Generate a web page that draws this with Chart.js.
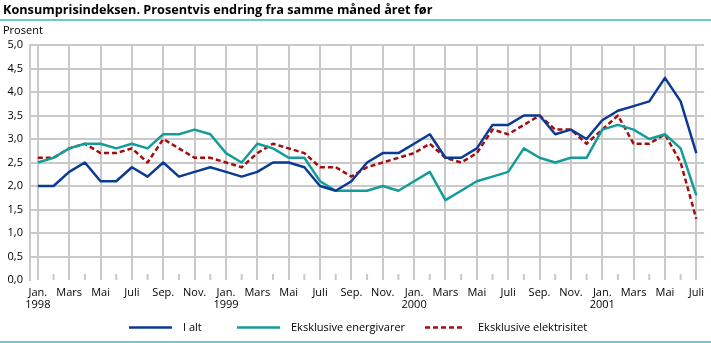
<!DOCTYPE html>
<html>
<head>
<meta charset="utf-8">
<script src="https://cdn.jsdelivr.net/npm/chart.js@4.4.1/dist/chart.umd.min.js"></script>
<style>
  html, body { margin: 0; padding: 0; background: #fff; }
  #wrap { position: relative; width: 711px; height: 343px; overflow: hidden; font-family: "Open Sans", sans-serif; color: #000; }
  #title { position: absolute; left: 3px; top: 0px; font-weight: bold; font-size: 12.7px; white-space: nowrap; }
  .rule { position: absolute; left: 0; width: 711px; height: 2px; background: #6ccbc8; }
  #unit { position: absolute; left: 3px; top: 22px; font-size: 11px; }
  canvas { position: absolute; left: 0; top: 0; }
  .lg { position: absolute; top: 320px; font-size: 11px; white-space: nowrap; line-height: 14px; }
</style>
</head>
<body>
<div id="wrap">
  <canvas id="c" width="711" height="343"></canvas>
  <div id="title">Konsumprisindeksen. Prosentvis endring fra samme måned året før</div>
  <div class="rule" style="top:19px"></div>
  <div id="unit">Prosent</div>
  <div id="legend"></div>
  <div class="rule" style="top:341px"></div>
</div>
<script>
// Years and month names on the time axis
const years = ['1998', '1999', '2000', '2001'];
const monthNames = ['Jan.', 'Feb.', 'Mars', 'April', 'Mai', 'Juni', 'Juli', 'Aug.', 'Sep.', 'Okt.', 'Nov.', 'Des.'];

// Categories: Jan. 1998 to Juli 2001
const categories = [];
years.forEach(y => monthNames.forEach((m, k) => categories.push({ month: m, year: y, k })));
categories.length = 43;

// Percentage change from same month the previous year
const iAlt = [
  2.0, 2.0, 2.3, 2.5, 2.1, 2.1, 2.4, 2.2, 2.5, 2.2, 2.3, 2.4,
  2.3, 2.2, 2.3, 2.5, 2.5, 2.4, 2.0, 1.9, 2.1, 2.5, 2.7, 2.7,
  2.9, 3.1, 2.6, 2.6, 2.8, 3.3, 3.3, 3.5, 3.5, 3.1, 3.2, 3.0,
  3.4, 3.6, 3.7, 3.8, 4.3, 3.8, 2.7
];
const eksklEnergivarer = [
  2.5, 2.6, 2.8, 2.9, 2.9, 2.8, 2.9, 2.8, 3.1, 3.1, 3.2, 3.1,
  2.7, 2.5, 2.9, 2.8, 2.6, 2.6, 2.1, 1.9, 1.9, 1.9, 2.0, 1.9,
  2.1, 2.3, 1.7, 1.9, 2.1, 2.2, 2.3, 2.8, 2.6, 2.5, 2.6, 2.6,
  3.2, 3.3, 3.2, 3.0, 3.1, 2.8, 1.8
];
const eksklElektrisitet = [
  2.6, 2.6, 2.8, 2.9, 2.7, 2.7, 2.8, 2.5, 3.0, 2.8, 2.6, 2.6,
  2.5, 2.4, 2.7, 2.9, 2.8, 2.7, 2.4, 2.4, 2.2, 2.4, 2.5, 2.6,
  2.7, 2.9, 2.6, 2.5, 2.7, 3.2, 3.1, 3.3, 3.5, 3.2, 3.2, 2.9,
  3.2, 3.5, 2.9, 2.9, 3.1, 2.5, 1.3
];

const seriesNames = ['I alt', 'Eksklusive energivarer', 'Eksklusive elektrisitet'];
const yTicks = { min: 0, max: 5, step: 0.5 };

const BLUE = '#0b3a94';
const TEAL = '#149c9a';
const RED = '#a50d0d';
const GRID = '#c9c9c9';
const DASH = [5, 3];
const FONT = '"Open Sans", sans-serif';

// Short tick marks at the unlabelled months
const minorTicks = {
  id: 'minorTicks',
  beforeDatasetsDraw(chart) {
    const xs = chart.scales.x, ca = chart.chartArea, ctx = chart.ctx;
    ctx.save();
    ctx.strokeStyle = GRID;
    ctx.lineWidth = 2;
    for (let i = 1; i < categories.length; i += 2) {
      const px = xs.getPixelForTick(i);
      ctx.beginPath();
      ctx.moveTo(px, ca.bottom);
      ctx.lineTo(px, ca.bottom - 6);
      ctx.stroke();
    }
    ctx.restore();
  }
};

new Chart(document.getElementById('c'), {
  type: 'line',
  data: {
    labels: categories.map(c => c.month + ' ' + c.year),
    datasets: [
      { label: seriesNames[0], data: iAlt, borderColor: BLUE, borderWidth: 2.5 },
      { label: seriesNames[1], data: eksklEnergivarer, borderColor: TEAL, borderWidth: 2.5 },
      { label: seriesNames[2], data: eksklElektrisitet, borderColor: RED, borderWidth: 2.5, borderDash: DASH }
    ]
  },
  options: {
    responsive: false,
    animation: false,
    events: [],
    elements: { point: { radius: 0 }, line: { tension: 0, fill: false, borderCapStyle: 'butt', borderJoinStyle: 'round' } },
    layout: { padding: { top: 45, right: 5, bottom: 0, left: 0 } },
    plugins: { legend: { display: false }, tooltip: { enabled: false } },
    scales: {
      x: {
        type: 'category',
        offset: true,
        afterFit(s) { s.height = 63; },
        border: { display: false },
        grid: {
          offset: false,
          drawTicks: false,
          lineWidth: 2,
          color: ctx => (ctx.index % 2 === 0 ? GRID : 'rgba(0,0,0,0)')
        },
        ticks: {
          autoSkip: false,
          maxRotation: 0,
          padding: 7,
          color: '#000',
          font: { family: FONT, size: 11, lineHeight: 1.1 },
          callback: (v, i) => {
            if (i % 2 !== 0) return '';
            const c = categories[i];
            return c.k === 0 ? [c.month, c.year] : c.month;
          }
        }
      },
      y: {
        min: yTicks.min,
        max: yTicks.max,
        afterFit(s) { s.width = 30; },
        border: { display: true, color: GRID, width: 2 },
        grid: {
          drawTicks: false,
          lineWidth: 2,
          color: ctx => (ctx.tick && ctx.tick.value === 0 ? 'rgba(0,0,0,0)' : GRID)
        },
        ticks: {
          stepSize: yTicks.step,
          padding: 7,
          color: '#000',
          font: { family: FONT, size: 11 },
          callback: v => v.toFixed(1).replace('.', ',')
        }
      }
    }
  },
  plugins: [minorTicks]
});

// Legend below the plot
const legendItems = [
  { name: seriesNames[0], color: BLUE, dash: null, x: 129, w: 43, tx: 183 },
  { name: seriesNames[1], color: TEAL, dash: null, x: 237, w: 43, tx: 291 },
  { name: seriesNames[2], color: RED, dash: DASH, x: 425, w: 37, tx: 478 }
];
const legend = document.getElementById('legend');
legendItems.forEach(it => {
  const svg = `<svg width="${it.w}" height="14" style="left:${it.x}px;position:absolute;top:320px">` +
    `<line x1="0" y1="7.5" x2="${it.w}" y2="7.5" stroke="${it.color}" stroke-width="2.5"` +
    (it.dash ? ` stroke-dasharray="${it.dash.join(',')}"` : '') + `/></svg>`;
  legend.insertAdjacentHTML('beforeend', svg +
    `<div class="lg" style="left:${it.tx}px">${it.name}</div>`);
});
</script>
</body>
</html>
